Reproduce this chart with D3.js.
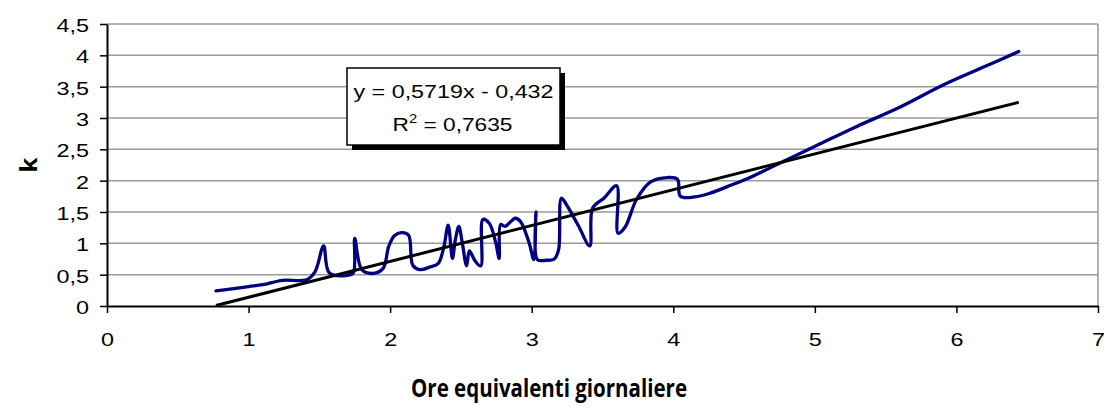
<!DOCTYPE html>
<html>
<head>
<meta charset="utf-8">
<script src="https://cdn.jsdelivr.net/npm/d3@7"></script>
<style>
  body { margin: 0; background: #fff; }
  svg { display: block; }
</style>
</head>
<body>
<svg id="chart" width="1104" height="407"></svg>
<script>
// ---- data ----
const xValues = [0.77,1.0,1.1,1.24,1.41,1.47,1.53,1.57,1.70,1.74,1.75,1.80,1.88,1.95,1.99,2.03,2.08,2.13,2.16,2.21,2.28,2.34,2.38,2.41,2.44,2.46,2.485,2.51,2.54,2.56,2.60,2.64,2.655,2.70,2.745,2.77,2.78,2.81,2.885,2.92,2.98,3.015,3.03,3.04,3.10,3.16,3.19,3.21,3.25,3.33,3.41,3.43,3.51,3.60,3.61,3.66,3.74,3.84,3.96,4.03,4.05,4.15,4.26,4.41,4.55,4.78,5.02,5.30,5.58,5.91,6.20,6.44];
const kValues = [0.24,0.31,0.34,0.41,0.42,0.55,0.96,0.53,0.49,0.53,1.08,0.58,0.52,0.60,0.95,1.12,1.17,1.13,0.65,0.58,0.62,0.68,0.95,1.29,0.76,1.05,1.27,1.00,0.64,0.88,0.72,0.64,1.38,1.32,1.02,0.76,1.30,1.27,1.40,1.35,1.02,0.74,1.50,0.74,0.73,0.75,0.90,1.72,1.60,1.28,0.96,1.56,1.72,1.92,1.16,1.26,1.70,1.98,2.05,2.02,1.75,1.74,1.80,1.93,2.06,2.31,2.57,2.87,3.15,3.53,3.82,4.06];
const slope = 0.5719, intercept = -0.432;
const equationText = "y = 0,5719x - 0,432";
const r2Text = " = 0,7635";
const xTicks = [0,1,2,3,4,5,6,7];
const yTicks = [0,0.5,1,1.5,2,2.5,3,3.5,4,4.5];
const xTitle = "Ore equivalenti giornaliere";
const yTitle = "k";

// ---- layout ----
const svg = d3.select("#chart");
const L = 107, R = 1098, T = 24, B = 306;
const x = d3.scaleLinear().domain([0,7]).range([L,R]);
const y = d3.scaleLinear().domain([0,4.5]).range([B,T]);
const fmt = v => String(v).replace(".", ",");
const ARIAL = "'Liberation Sans', Arial, sans-serif";

// horizontally stretch text (the reference is rendered wide)
function stretch(sel, f) {
  sel.each(function() {
    const w = this.getComputedTextLength();
    d3.select(this).attr("textLength", w * f).attr("lengthAdjust", "spacingAndGlyphs");
  });
}

// gridlines
svg.append("g").selectAll("line").data(yTicks.filter(d => d > 0)).join("line")
  .attr("x1", L).attr("x2", R)
  .attr("y1", d => y(d)).attr("y2", d => y(d))
  .attr("stroke", "#9a9a9a").attr("stroke-width", 1.5);
// right border
svg.append("line").attr("x1", R).attr("x2", R).attr("y1", T).attr("y2", B)
  .attr("stroke", "#9a9a9a").attr("stroke-width", 1.5);

// axes
const xAxis = d3.axisBottom(x).tickValues(xTicks).tickFormat(fmt).tickSizeInner(7).tickSizeOuter(0).tickPadding(20);
const yAxis = d3.axisLeft(y).tickValues(yTicks).tickFormat(fmt).tickSizeInner(7).tickSizeOuter(0).tickPadding(11);
const gx = svg.append("g").attr("transform", `translate(0,${B})`).call(xAxis);
const gy = svg.append("g").attr("transform", `translate(${L},0)`).call(yAxis);
[gx, gy].forEach(g => {
  g.select(".domain").attr("stroke", "#000").attr("stroke-width", 2);
  g.selectAll(".tick line").attr("stroke", "#000").attr("stroke-width", 1.5);
  g.selectAll(".tick text").attr("font-family", ARIAL)
    .attr("font-size", 18).attr("fill", "#000");
});
gy.selectAll(".tick text").attr("dy", "0.42em");
stretch(gx.selectAll(".tick text"), 1.3);
stretch(gy.selectAll(".tick text"), 1.3);

// data curve
const pts = xValues.map((v, i) => [v, kValues[i]]);
const line = d3.line().x(d => x(d[0])).y(d => y(d[1])).curve(d3.curveCatmullRom.alpha(0.5));
svg.append("path").datum(pts).attr("d", line)
  .attr("fill", "none").attr("stroke", "#000080").attr("stroke-width", 3.3)
  .attr("stroke-linejoin", "round").attr("stroke-linecap", "round");

// trend line
const xMin = d3.min(xValues), xMax = d3.max(xValues);
const trend = [[xMin, slope*xMin + intercept], [xMax, slope*xMax + intercept]];
svg.append("path").datum(trend).attr("d", d3.line().x(d => x(d[0])).y(d => y(d[1])))
  .attr("fill", "none").attr("stroke", "#000").attr("stroke-width", 3);

// equation box
const bx = 347, by = 68, bw = 213, bh = 77;
svg.append("rect").attr("x", bx+5).attr("y", by+5).attr("width", bw).attr("height", bh).attr("fill", "#000");
svg.append("rect").attr("x", bx).attr("y", by).attr("width", bw).attr("height", bh)
  .attr("fill", "#fff").attr("stroke", "#000").attr("stroke-width", 1.5);
const eq = svg.append("text").attr("x", bx + bw/2).attr("y", 98).attr("text-anchor", "middle")
  .attr("font-family", ARIAL).attr("font-size", 18.5)
  .text(equationText);
eq.attr("textLength", 200).attr("lengthAdjust", "spacingAndGlyphs");
const r2 = svg.append("text").attr("x", bx + bw/2 - 1).attr("y", 131).attr("text-anchor", "middle")
  .attr("font-family", ARIAL).attr("font-size", 18.5);
r2.append("tspan").text("R");
r2.append("tspan").attr("font-size", 12).attr("dy", -8).text("2");
r2.append("tspan").attr("dy", 8).text(r2Text);
r2.attr("textLength", 120).attr("lengthAdjust", "spacingAndGlyphs");

// titles
const xt = svg.append("text").attr("x", 549).attr("y", 397).attr("text-anchor", "middle")
  .attr("font-family", "'Open Sans', sans-serif").attr("font-weight", "bold").attr("font-size", 25)
  .text(xTitle);
xt.attr("textLength", 276).attr("lengthAdjust", "spacingAndGlyphs");
svg.append("text").attr("transform", `translate(37,165) rotate(-90)`).attr("text-anchor", "middle")
  .attr("font-family", "'Open Sans', sans-serif").attr("font-weight", "bold").attr("font-size", 24)
  .text(yTitle);
</script>
</body>
</html>
